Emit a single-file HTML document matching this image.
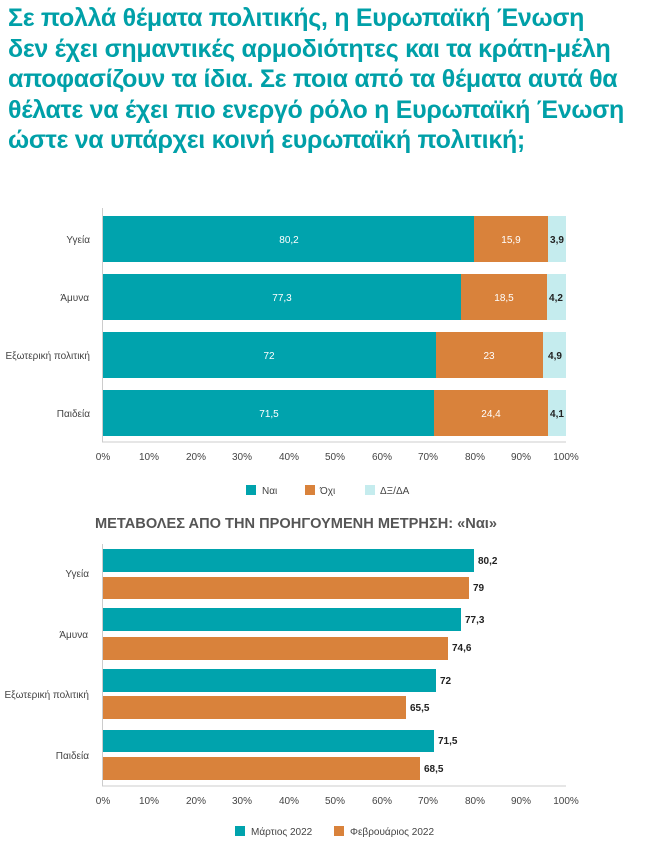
<!DOCTYPE html>
<html><head><meta charset="utf-8"><style>
body{margin:0;width:650px;height:842px;background:#fff;font-family:"Liberation Sans","DejaVu Sans",sans-serif;position:relative;overflow:hidden}
.t{position:absolute;left:8px;top:3px;color:#00a0a8;font-weight:bold;font-size:25px;line-height:30.5px;letter-spacing:-0.3px;white-space:nowrap}
</style></head><body>
<div class="t">Σε πολλά θέματα πολιτικής, η Ευρωπαϊκή Ένωση<br>δεν έχει σημαντικές αρμοδιότητες και τα κράτη-μέλη<br>αποφασίζουν τα ίδια. Σε ποια από τα θέματα αυτά θα<br>θέλατε να έχει πιο ενεργό ρόλο η Ευρωπαϊκή Ένωση<br>ώστε να υπάρχει κοινή ευρωπαϊκή πολιτική;</div>
<svg width="650" height="842" style="position:absolute;left:0;top:0" font-family="Liberation Sans, DejaVu Sans, sans-serif" font-size="10">
<g id="c1">
<line x1="102.5" y1="208" x2="102.5" y2="442" stroke="#ccc"/>
<line x1="102" y1="442" x2="566" y2="442" stroke="#ccc"/>
<g fill="#00a3ad">
<rect x="103" y="216" width="371" height="46"/><rect x="103" y="274" width="358" height="46"/><rect x="103" y="332" width="333" height="46"/><rect x="103" y="390" width="331" height="46"/></g>
<g fill="#d9823b">
<rect x="474" y="216" width="74" height="46"/><rect x="461" y="274" width="86" height="46"/><rect x="436" y="332" width="107" height="46"/><rect x="434" y="390" width="114" height="46"/></g>
<g fill="#c5ecee">
<rect x="548" y="216" width="18" height="46"/><rect x="547" y="274" width="19" height="46"/><rect x="543" y="332" width="23" height="46"/><rect x="548" y="390" width="18" height="46"/></g>
<g fill="#fff" text-anchor="middle">
<text x="289" y="243">80,2</text><text x="282" y="301">77,3</text><text x="269" y="359">72</text><text x="269" y="417">71,5</text>
<text x="511" y="243">15,9</text><text x="504" y="301">18,5</text><text x="489" y="359">23</text><text x="491" y="417">24,4</text></g>
<g fill="#222" text-anchor="middle" font-weight="bold">
<text x="557" y="243">3,9</text><text x="556" y="301">4,2</text><text x="555" y="359">4,9</text><text x="557" y="417">4,1</text></g>
<g fill="#444" text-anchor="end">
<text x="90" y="243">Υγεία</text><text x="89" y="301">Άμυνα</text><text x="90" y="359">Εξωτερική πολιτική</text><text x="90" y="417">Παιδεία</text></g>
<g fill="#444" text-anchor="middle">
<text x="103" y="460">0%</text><text x="149" y="460">10%</text><text x="196" y="460">20%</text><text x="242" y="460">30%</text><text x="289" y="460">40%</text><text x="335" y="460">50%</text><text x="382" y="460">60%</text><text x="428" y="460">70%</text><text x="475" y="460">80%</text><text x="521" y="460">90%</text><text x="566" y="460">100%</text></g>
<rect x="246" y="485" width="10" height="10" fill="#00a3ad"/><text x="262" y="494" fill="#444">Ναι</text>
<rect x="305" y="485" width="10" height="10" fill="#d9823b"/><text x="320" y="494" fill="#444">Όχι</text>
<rect x="365" y="485" width="10" height="10" fill="#c5ecee"/><text x="380" y="494" fill="#444">ΔΞ/ΔΑ</text>
</g>
<text x="95" y="528" font-size="14.5" font-weight="bold" fill="#555" textLength="402" lengthAdjust="spacingAndGlyphs">ΜΕΤΑΒΟΛΕΣ ΑΠΟ ΤΗΝ ΠΡΟΗΓΟΥΜΕΝΗ ΜΕΤΡΗΣΗ: «Ναι»</text>
<line x1="102.5" y1="544" x2="102.5" y2="786" stroke="#ccc"/>
<line x1="102" y1="786" x2="566" y2="786" stroke="#ccc"/>
<g fill="#00a3ad">
<rect x="103" y="549" width="371" height="23"/><rect x="103" y="608" width="358" height="23"/><rect x="103" y="669" width="333" height="23"/><rect x="103" y="730" width="331" height="22"/></g>
<g fill="#d9823b">
<rect x="103" y="577" width="366" height="22"/><rect x="103" y="637" width="345" height="23"/><rect x="103" y="696" width="303" height="23"/><rect x="103" y="757" width="317" height="23"/></g>
<g fill="#222" font-weight="bold">
<text x="478" y="564">80,2</text><text x="473" y="591">79</text><text x="465" y="623">77,3</text><text x="452" y="651">74,6</text>
<text x="440" y="684">72</text><text x="410" y="711">65,5</text><text x="438" y="744">71,5</text><text x="424" y="772">68,5</text></g>
<g fill="#444" text-anchor="end">
<text x="89" y="577">Υγεία</text><text x="88" y="638">Άμυνα</text><text x="89" y="698">Εξωτερική πολιτική</text><text x="89" y="759">Παιδεία</text></g>
<g fill="#444" text-anchor="middle">
<text x="103" y="804">0%</text><text x="149" y="804">10%</text><text x="196" y="804">20%</text><text x="242" y="804">30%</text><text x="289" y="804">40%</text><text x="335" y="804">50%</text><text x="382" y="804">60%</text><text x="428" y="804">70%</text><text x="475" y="804">80%</text><text x="521" y="804">90%</text><text x="566" y="804">100%</text></g>
<rect x="235" y="826" width="10" height="10" fill="#00a3ad"/><text x="251" y="835" fill="#444">Μάρτιος 2022</text>
<rect x="334" y="826" width="10" height="10" fill="#d9823b"/><text x="350" y="835" fill="#444">Φεβρουάριος 2022</text>
</svg>
</body></html>
